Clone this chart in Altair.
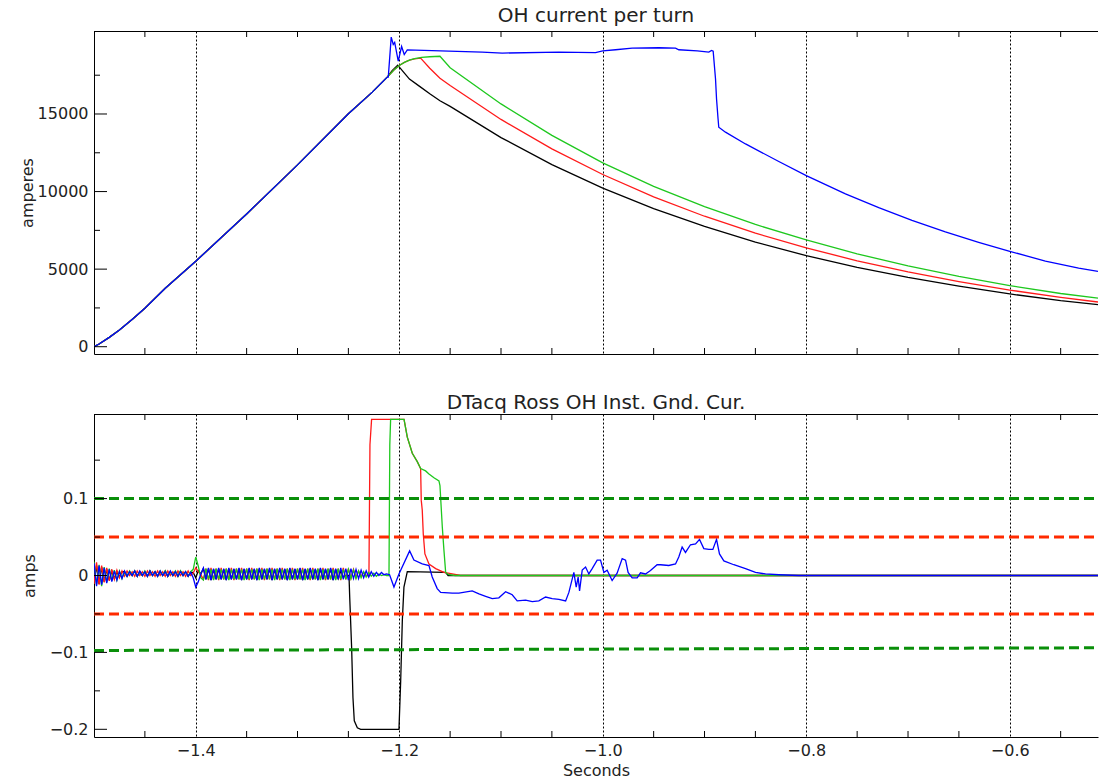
import altair as alt
import pandas as pd

FONT = "DejaVu Sans"
INK = "#222222"

# ---- time axis -------------------------------------------------------------
X_START, X_END = -1.5, -0.5133
MAJOR_T = [-1.4, -1.2, -1.0, -0.8, -0.6]
MINOR_T = [-1.45, -1.35, -1.3, -1.25, -1.15, -1.1, -1.05,
           -0.95, -0.9, -0.85, -0.75, -0.7, -0.65, -0.55]

# ---- OH current per turn (amperes) ------------------------------------------
# common ramp shared by all four traces
RAMP_T = [-1.5, -1.495, -1.485, -1.475, -1.462, -1.45, -1.43, -1.4,
          -1.35, -1.3, -1.25, -1.2265, -1.2118]
RAMP_A = [0, 175, 600, 1075, 1790, 2480, 3770, 5510,
          8560, 11720, 15010, 16410, 17376]

BLACK_T = [-1.207, -1.2015, -1.197, -1.19, -1.18, -1.17, -1.16, -1.15, -1.1,
           -1.05, -1.0, -0.95, -0.9, -0.85, -0.8, -0.75, -0.7, -0.65, -0.6,
           -0.55, X_END]
BLACK_A = [17800, 18150, 17800, 17250, 16780, 16300, 15850, 15490, 13480,
           11740, 10220, 8900, 7750, 6740, 5870, 5120, 4470, 3900, 3400,
           2970, 2710]

RED_T = [-1.205, -1.2, -1.195, -1.19, -1.185, -1.179, -1.17, -1.16, -1.15,
         -1.1, -1.05, -1.0, -0.95, -0.9, -0.85, -0.8, -0.75, -0.7, -0.65,
         -0.6, -0.55, X_END]
RED_A = [17850, 18130, 18330, 18470, 18560, 18600, 17950, 17300, 16840,
         14650, 12750, 11100, 9660, 8410, 7320, 6370, 5540, 4820, 4200,
         3650, 3180, 2880]

GREEN_T = [-1.205, -1.2, -1.195, -1.19, -1.185, -1.178, -1.17, -1.16, -1.15,
           -1.1, -1.05, -1.0, -0.95, -0.9, -0.85, -0.8, -0.75, -0.7, -0.65,
           -0.6, -0.55, X_END]
GREEN_A = [17850, 18130, 18330, 18470, 18570, 18650, 18690, 18720, 17980,
           15650, 13620, 11850, 10340, 9030, 7880, 6880, 5985, 5210, 4530,
           3940, 3430, 3130]

BLUE_T = [-1.2108, -1.2079, -1.2059, -1.2045, -1.201, -1.1977, -1.1951,
          -1.1921, -1.1185, -1.0988, -1.0431, -1.0071, -1.0, -0.9874,
          -0.9711, -0.9449, -0.9285, -0.9253, -0.9071, -0.8958, -0.8931,
          -0.8915, -0.8892, -0.8882, -0.8867, -0.886, -0.8794, -0.8597,
          -0.827, -0.8, -0.7615, -0.7288, -0.6961, -0.6633, -0.6306, -0.6,
          -0.565, -0.5323, X_END]
BLUE_A = [17376, 19956, 19480, 19610, 18405, 19350, 18834,
          19137, 18990, 18925, 18990, 18960, 19070, 19140,
          19250, 19270, 19250, 19140, 19070, 18990, 19100,
          19050, 17270, 15980, 14690, 14150, 13830, 13070,
          11940, 11030, 9855, 8960, 8145, 7400, 6730, 6150,
          5520, 5060, 4860]

# ---- DTacq ground current (amps) ---------------------------------------------
# digitiser pickup before the event, in milliamps, one sample every 2.5 ms from -1.5 s
NOISE_T0, NOISE_DT = -1.5, 0.0025
BLUE_NOISE_MA = [16, -14, 13, -12, 10, -10, 8, -8, 6, -6, 5, -4,
                 6, -1, 5, 0, 6, -1, 6, 0, 5, -1, 6, 0, 5, -1, 6, 0, 5, -1,
                 6, 0, 5, -1, 5, 0, 5, -1, 4,
                 -3, -15, -8, 2,
                 10, -5, 10, -6, 9, -5, 10, -5, 9, -6, 10, -5, 9, -5, 10, -6,
                 9, -5, 10, -5, 9, -6, 10, -5, 9, -5, 10, -6, 9, -5, 10, -5,
                 9, -6, 10, -5, 9, -5, 10, -6, 9, -5, 10, -5, 9, -6, 10, -5,
                 9, -5, 10, -6, 9, -5, 10, -5, 9, -6, 9, -4, 8, -4, 7, -3, 6,
                 -2, 5, -1, 4, 0, 4, 1, 2]
RED_NOISE_MA = [-11, 17, -12, 13, -9, 10, -7, 8, -5, 7, -3, 6,
                -1, 6, 0, 5, -1, 6, 0, 5, -1, 6, 0, 5, -1, 6, 0, 5, -1, 6, 0,
                5, -1, 6, 0, 5, -1, 6, 0,
                3, 10, 5, 1,
                -5, 9, -6, 10, -5, 9, -6, 10, -5, 9, -5, 10, -6, 9, -5, 10,
                -5, 9, -6, 10, -5, 9, -5, 10, -6, 9, -5, 10, -5, 9, -6, 10,
                -5, 9, -5, 10, -6, 9, -5, 10, -5, 9, -6, 10, -5, 9, -5, 10,
                -6, 9, -5, 10, -5, 9, -6, 10, -5, 9, -4, 8, -3, 6, -1, 4, 0]
GREEN_NOISE_MA = [18, -12, 14, -14, 11, -9, 9, -7, 7, -6, 6, -4,
                  5, -1, 6, 0, 6, -1, 5, 0, 6, -1, 6, 0, 5, -1, 6, 0, 6, -1,
                  5, 0, 6, -1, 6, 0, 5, -1, 5,
                  8, 24, 12, -3,
                  -6, 9, -5, 8, -6, 9, -5, 8, -5, 9, -6, 8, -5, 9, -5, 8, -6,
                  9, -5, 8, -5, 9, -6, 8, -5, 9, -5, 8, -6, 9, -5, 8, -5, 9,
                  -6, 8, -5, 9, -5, 8, -6, 9, -5, 8, -5, 9, -6, 8, -5, 9, -5,
                  8, -6, 9, -5, 8, -5, 8, -4, 7, -4, 6, -3, 5, -2, 4, -1, 3,
                  -1, 2, 0, 1, 0]
BLACK_NOISE_MA = [-13, 13, -11, 11, -8, 8, -6, 6, -4, 5, -2, 5,
                  5, -1, 5, 0, 6, -1, 5, 0, 5, -1, 6, 0, 5, -1, 5, 0, 6, -1,
                  5, 0, 5, -1, 6, 0, 5, -1, 4,
                  4, -3, 6, 2,
                  9, -5, 9, -6, 8, -5, 9, -5, 8, -6, 9, -5, 8, -5, 9, -6, 8,
                  -5, 9, -5, 8, -6, 9, -5, 8, -5, 9, -6, 8, -5, 9, -5, 8, -6,
                  9, -5, 8, -5, 9, -6, 8, -5, 9, -5, 8, -6, 9, -5, 8, -5, 9,
                  -6, 8, -4, 6, -2, 0]

BLACK_EV_T = [-1.2494, -1.2487, -1.2468, -1.2455, -1.2442, -1.2412, -1.2379,
              -1.2003, -1.1986, -1.197, -1.1954, -1.1921, -1.1545, -1.152, X_END]
BLACK_EV_V = [0.0, -0.028, -0.094, -0.159, -0.189, -0.198, -0.2,
              -0.2, -0.137, -0.059, -0.015, 0.005, 0.004, 0.0, 0.0]

RED_EV_T = [-1.2298, -1.2288, -1.2272, -1.1953, -1.1921, -1.1872, -1.1823,
            -1.179, -1.1784, -1.1774, -1.1764, -1.1748, -1.1708, -1.1642,
            -1.1561, -1.1479, -1.14, X_END]
RED_EV_V = [0.0, 0.17, 0.203, 0.203, 0.180, 0.159, 0.148,
            0.139, 0.098, 0.085, 0.054, 0.028, 0.015, 0.009,
            0.004, 0.002, 0.0, 0.0]

GREEN_EV_T = [-1.2108, -1.2101, -1.2093, -1.2085, -1.1953, -1.1921,
              -1.1872, -1.1823, -1.179, -1.1741, -1.1708, -1.1659, -1.161,
              -1.16, -1.1577, -1.1561, -1.1544, -1.1512, -1.145, X_END]
GREEN_EV_V = [0.0, 0.0, 0.17, 0.203, 0.203, 0.180,
              0.159, 0.148, 0.139, 0.136, 0.132, 0.127, 0.123,
              0.117, 0.063, 0.033, 0.004, 0.001, 0.0, 0.0]

BLUE_EV_T = [-1.2095, -1.2052, -1.2003, -1.1898, -1.1856, -1.1774,
             -1.1708, -1.1676, -1.1627, -1.1593, -1.1479, -1.1414, -1.1283,
             -1.1217, -1.1151, -1.1086, -1.1021, -1.0955, -1.0890, -1.0841,
             -1.0758, -1.0693, -1.0628, -1.0562, -1.0497, -1.0431, -1.0365,
             -1.0333, -1.0284, -1.0261, -1.0242, -1.0228, -1.0202, -1.0169,
             -1.0137, -1.0104, -1.0055, -1.0022, -0.9989, -0.9957, -0.9908,
             -0.9859, -0.9809, -0.9776, -0.9751, -0.9711, -0.9662, -0.9629,
             -0.9580, -0.9531, -0.9466, -0.9432, -0.9351, -0.9285, -0.9253,
             -0.9220, -0.9187, -0.9138, -0.9088, -0.9049, -0.9007, -0.8957,
             -0.8918, -0.8882, -0.8853, -0.8810, -0.8712, -0.8597, -0.8499,
             -0.8401, -0.8270, -0.8074, X_END]
BLUE_EV_V = [0.001, -0.015, 0.002, 0.032, 0.020, 0.015,
             0.013, -0.002, -0.017, -0.022, -0.023, -0.023, -0.020,
             -0.024, -0.027, -0.030, -0.029, -0.021, -0.025, -0.033,
             -0.032, -0.034, -0.033, -0.028, -0.030, -0.031, -0.033,
             -0.022, 0.004, -0.015, -0.002, -0.020, 0.007, 0.011,
             0.002, 0.009, 0.020, 0.020, 0.004, 0.007, -0.0065,
             0.003, 0.022, 0.020, 0.004, -0.003, -0.003, 0.0035,
             0.002, 0.0065, 0.014, 0.014, 0.013, 0.015, 0.024,
             0.037, 0.030, 0.040, 0.041, 0.047, 0.035, 0.034,
             0.034, 0.047, 0.028, 0.019, 0.014, 0.009, 0.004,
             0.002, 0.001, 0.0, 0.0]

# alarm thresholds
RED_LIMIT = 0.05
GREEN_LIMIT_HI = 0.1
GREEN_LIMIT_LO = [-0.0975, -0.094]   # at the start and end of the window

COLORS = {"black": "#000000", "red": "#ff1a1a", "green": "#1ec81e", "blue": "#0000ff"}
DASH_GREEN = "#0a8f0a"
DASH_RED = "#ff2a00"

# the window cuts the plot off on the right, so only left/top/bottom edges are framed
PLOT_W, PLOT_H = 1004, 323


def frame(t, v):
    return pd.DataFrame({"t": t, "v": v})


def noise_frame(ma, t_ev, v_ev):
    t = [round(NOISE_T0 + i * NOISE_DT, 5) for i in range(len(ma))]
    v = [m / 1000.0 for m in ma]
    return frame(t + t_ev, v + v_ev)


def x_enc(labels):
    axis = alt.Axis(values=MAJOR_T, grid=True, gridDash=[2, 2], gridColor="black",
                    gridOpacity=1, gridWidth=1, ticks=False, tickSize=0,
                    domain=True, domainColor="black", domainWidth=1,
                    labels=labels, format=".1f", labelFont=FONT, labelFontSize=16,
                    labelColor=INK, labelPadding=5, titleFont=FONT, titleFontSize=16,
                    titleFontWeight="normal", titleColor=INK, titlePadding=4)
    return alt.X("t:Q", scale=alt.Scale(domain=[X_START, X_END], nice=False, zero=False),
                 axis=axis, title="Seconds" if labels else None)


def y_enc(domain, values, fmt, title, title_pad):
    axis = alt.Axis(values=values, format=fmt, ticks=False, tickSize=0,
                    domain=True, domainColor="black", domainWidth=1,
                    grid=False, labelFont=FONT, labelFontSize=16, labelColor=INK,
                    labelPadding=6, titleFont=FONT, titleFontSize=16,
                    titleFontWeight="normal", titleColor=INK, titlePadding=title_pad)
    return alt.Y("v:Q", scale=alt.Scale(domain=domain, nice=False, zero=False),
                 axis=axis, title=title)


def tick_layers(X, Y, y_major, y_minor):
    xt = pd.DataFrame({"t": MINOR_T})
    edge = alt.Chart(pd.DataFrame({"t": [X_START]})).mark_rule(
        color="black", strokeWidth=1).encode(
        x=alt.value(0), x2=alt.value(PLOT_W), y=alt.value(0.5))
    top = alt.Chart(xt).mark_rule(color="black", strokeWidth=1).encode(
        x=X, y=alt.value(0), y2=alt.value(6))
    bottom = alt.Chart(xt).mark_rule(color="black", strokeWidth=1).encode(
        x=X, y=alt.value(PLOT_H - 6), y2=alt.value(PLOT_H))
    major = alt.Chart(pd.DataFrame({"v": y_major})).mark_rule(
        color="black", strokeWidth=1).encode(y=Y, x=alt.value(0), x2=alt.value(13))
    minor = alt.Chart(pd.DataFrame({"v": y_minor})).mark_rule(
        color="black", strokeWidth=1).encode(y=Y, x=alt.value(0), x2=alt.value(6))
    return [edge, top, bottom, major, minor]


def trace(df, color, X, Y):
    return alt.Chart(df).mark_line(color=color, strokeWidth=1.3, clip=True,
                                   interpolate="linear").encode(x=X, y=Y)


def title(text, offset):
    return alt.TitleParams(text, font=FONT, fontSize=20, fontWeight="normal",
                           color=INK, anchor="middle", offset=offset)


# ---- upper panel ---------------------------------------------------------------
Xt = x_enc(False)
Yt = y_enc([-470, 20350], [0, 5000, 10000, 15000], "d", "amperes", 2)

upper_layers = [
    trace(frame(RAMP_T + BLACK_T, RAMP_A + BLACK_A), COLORS["black"], Xt, Yt),
    trace(frame(RAMP_T + RED_T, RAMP_A + RED_A), COLORS["red"], Xt, Yt),
    trace(frame(RAMP_T + GREEN_T, RAMP_A + GREEN_A), COLORS["green"], Xt, Yt),
    trace(frame(RAMP_T + BLUE_T, RAMP_A + BLUE_A), COLORS["blue"], Xt, Yt),
] + tick_layers(Xt, Yt, [0, 5000, 10000, 15000], [2500, 7500, 12500, 17500])

upper = alt.layer(*upper_layers).properties(
    width=PLOT_W, height=PLOT_H, title=title("OH current per turn", 5))

# ---- lower panel ---------------------------------------------------------------
Xb = x_enc(True)
Yb = y_enc([-0.21, 0.21], [-0.2, -0.1, 0, 0.1], ".1~f", "amps", 12)


def dashed(v0, v1, color):
    df = frame([X_START, X_END], [v0, v1])
    return alt.Chart(df).mark_line(color=color, strokeWidth=3, clip=True,
                                   strokeDash=[10, 5]).encode(x=Xb, y=Yb)


lower_layers = [
    trace(noise_frame(BLACK_NOISE_MA, BLACK_EV_T, BLACK_EV_V), COLORS["black"], Xb, Yb),
    trace(noise_frame(RED_NOISE_MA, RED_EV_T, RED_EV_V), COLORS["red"], Xb, Yb),
    trace(noise_frame(GREEN_NOISE_MA, GREEN_EV_T, GREEN_EV_V), COLORS["green"], Xb, Yb),
    trace(noise_frame(BLUE_NOISE_MA, BLUE_EV_T, BLUE_EV_V), COLORS["blue"], Xb, Yb),
    dashed(GREEN_LIMIT_HI, GREEN_LIMIT_HI, DASH_GREEN),
    dashed(RED_LIMIT, RED_LIMIT, DASH_RED),
    dashed(-RED_LIMIT, -RED_LIMIT, DASH_RED),
    dashed(GREEN_LIMIT_LO[0], GREEN_LIMIT_LO[1], DASH_GREEN),
] + tick_layers(Xb, Yb, [-0.2, -0.1, 0, 0.1], [-0.15, -0.05, 0.05, 0.15])

lower = alt.layer(*lower_layers).properties(
    width=PLOT_W, height=PLOT_H, title=title("DTacq Ross OH Inst. Gnd. Cur.", 1))

chart = alt.vconcat(upper, lower, spacing=37).properties(
    padding={"left": 19, "top": 5, "right": 0, "bottom": 0},
    background="white",
).configure_view(strokeWidth=0)

chart.save("out.html", embed_options={"renderer": "svg", "actions": False})
